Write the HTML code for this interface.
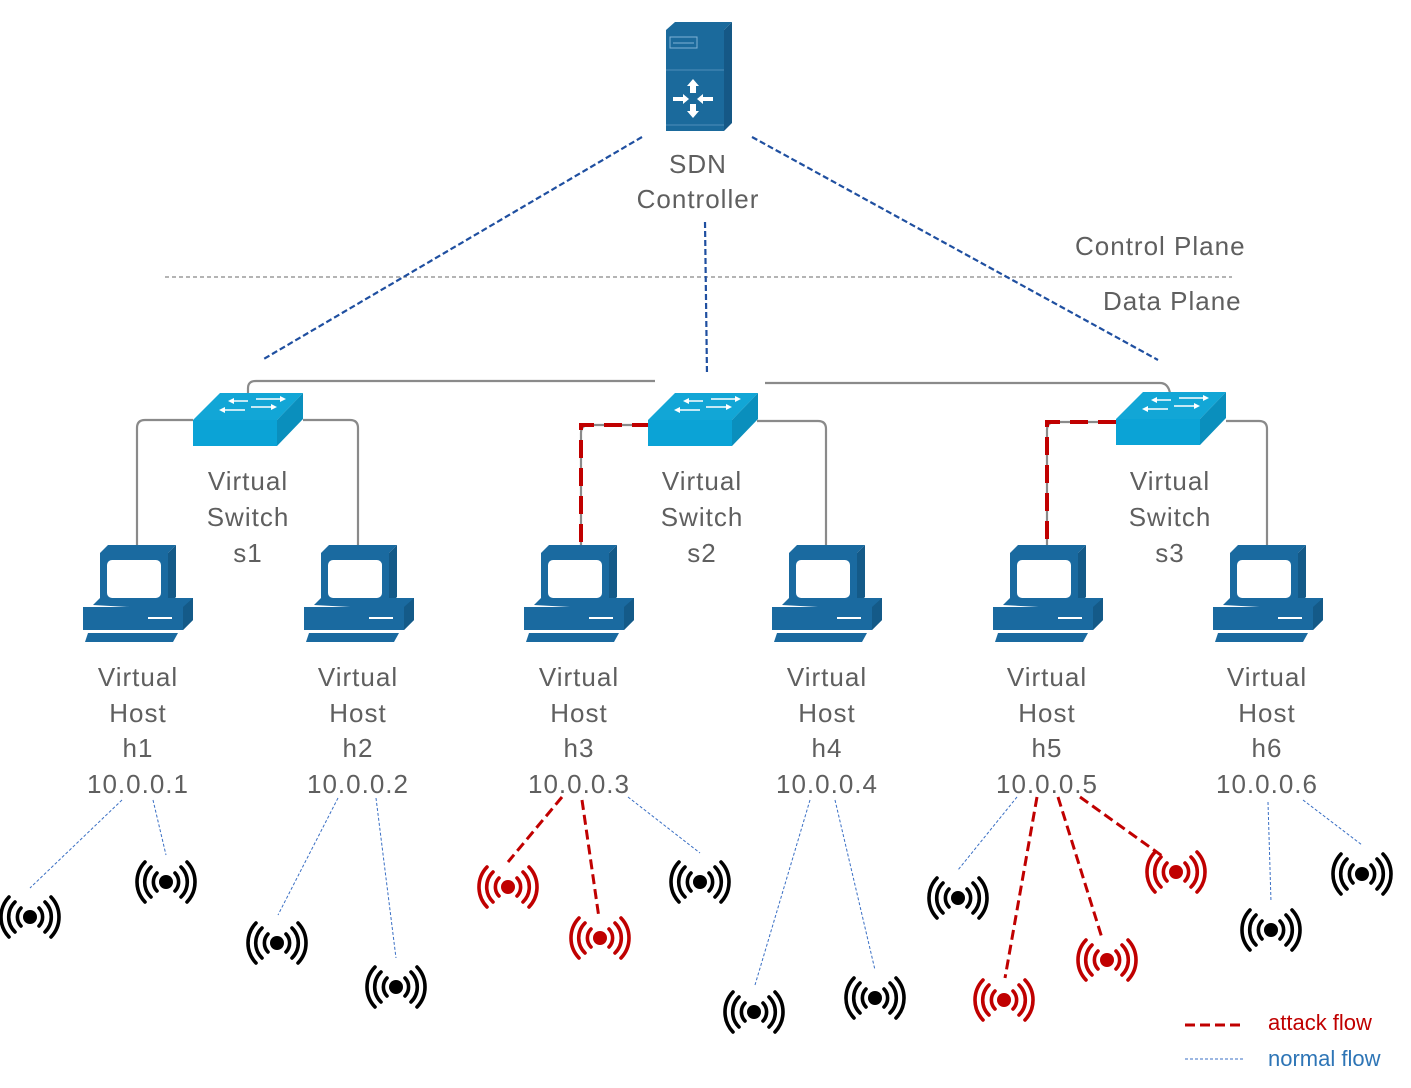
<!DOCTYPE html>
<html><head><meta charset="utf-8"><style>
html,body{margin:0;padding:0;background:#fff}
svg{display:block}
text{font-family:"Liberation Sans",sans-serif;font-size:26px;fill:#5f5f5f;letter-spacing:1px}
</style></head><body>
<svg width="1411" height="1088" viewBox="0 0 1411 1088" xmlns="http://www.w3.org/2000/svg">
<defs>
<g id="pc">
  <polygon points="17,8 25,0 93,0 85,8" fill="#1a6aa0"/>
  <polygon points="85,8 93,0 93,52 85,60" fill="#145a88"/>
  <rect x="17" y="8" width="68" height="52" fill="#1a6aa0"/>
  <rect x="24" y="15" width="54" height="38" rx="5" fill="#fff"/>
  <polygon points="10,60 17,53 110,53 110,55 100,65" fill="#1a6aa0"/>
  <polygon points="0,62 100,62 110,53 110,75 100,85 0,85" fill="#1a6aa0"/>
  <polygon points="100,62 110,53 110,75 100,85" fill="#145a88"/>
  <rect x="65" y="72" width="24" height="2" fill="#fff"/>
  <polygon points="5,88 95,88 90,97 2,97" fill="#1a6aa0"/>
</g>
<g id="sw">
  <polygon points="0,27 27,0 110,0 84,27" fill="#12a6d6"/>
  <rect x="0" y="27" width="84" height="26" fill="#0ba3d6"/>
  <polygon points="84,27 110,0 110,26 84,53" fill="#0a8fbd"/>
  <g stroke="#fff" stroke-width="1.5" fill="#fff">
    <line x1="40" y1="8" x2="55" y2="8"/><polygon points="35,8 41,5 41,11" stroke="none"/>
    <line x1="63" y1="6" x2="88" y2="6"/><polygon points="93,6 87,3 87,9" stroke="none"/>
    <line x1="32" y1="17" x2="52" y2="17"/><polygon points="26,17 32,14 32,20" stroke="none"/>
    <line x1="58" y1="14" x2="78" y2="14"/><polygon points="84,14 78,11 78,17" stroke="none"/>
  </g>
</g>
<g id="wf" fill="none" stroke-width="3.6" stroke-linecap="round">
  <circle r="7" stroke="none" fill="currentColor"/>
  <path d="M-9,-9 A13,13 0 0 0 -9,9 M9,-9 A13,13 0 0 1 9,9" stroke="currentColor"/>
  <path d="M-15,-15 A21,21 0 0 0 -15,15 M15,-15 A21,21 0 0 1 15,15" stroke="currentColor"/>
  <path d="M-21,-20 A29,29 0 0 0 -21,20 M21,-20 A29,29 0 0 1 21,20" stroke="currentColor"/>
</g>
</defs>

<polygon points="666,30 675,22 732,22 724,30" fill="#1b6a9c"/>
<polygon points="724,30 732,22 732,123 724,131" fill="#155886"/>
<rect x="666" y="30" width="58" height="101" fill="#1b6a9c"/>
<rect x="670" y="37" width="27" height="11" fill="none" stroke="#7fb3d6" stroke-width="1"/>
<line x1="673" y1="43" x2="694" y2="43" stroke="#7fb3d6"/>
<line x1="666" y1="70" x2="724" y2="70" stroke="#4f8fba"/>
<line x1="666" y1="125" x2="724" y2="125" stroke="#4f8fba"/>
<g fill="#fff">
<polygon points="693,79 699,86 696,86 696,93 690,93 690,86 687,86"/>
<polygon points="693,118 699,111 696,111 696,104 690,104 690,111 687,111"/>
<polygon points="689,99 683,94 683,97 673,97 673,101 683,101 683,104"/>
<polygon points="697,99 703,94 703,97 713,97 713,101 703,101 703,104"/>
</g>

<text x="698" y="173" text-anchor="middle">SDN</text>
<text x="698" y="208" text-anchor="middle">Controller</text>
<text x="1075" y="255" fill="#555">Control Plane</text>
<text x="1103" y="310">Data Plane</text>

<line x1="165" y1="277" x2="1232" y2="277" stroke="#888" stroke-width="1.2" stroke-dasharray="4,3"/>
<g stroke="#1f4fa0" stroke-width="2.2" stroke-dasharray="6,3">
<line x1="642" y1="137" x2="262" y2="360"/>
<line x1="752" y1="137" x2="1158" y2="360"/>
<line x1="705" y1="222" x2="707" y2="375"/>
</g>

<g stroke="#8a8a8a" stroke-width="2.2" fill="none">
<path d="M248,393 V388 Q248,381 256,381 H655"/>
<path d="M765,383 H1160 Q1168,383 1170,393"/>
<path d="M193,420 H145 Q137,420 137,428 V545"/>
<path d="M303,420 H350 Q358,420 358,428 V545"/>
<path d="M650,425 H589 Q581,425 581,433 V548"/>
<path d="M757,421 H818 Q826,421 826,429 V545"/>
<path d="M1116,422 H1055 Q1047,422 1047,430 V545"/>
<path d="M1226,421 H1259 Q1267,421 1267,429 V545"/>
</g>
<g stroke="#c00000" stroke-width="4" fill="none" stroke-dasharray="18,10">
<path d="M650,425 H581 V548"/>
<path d="M1116,422 H1047 V545"/>
</g>

<use href="#sw" x="193" y="393"/>
<use href="#sw" x="648" y="393"/>
<use href="#sw" x="1116" y="392"/>

<use href="#pc" x="83" y="545"/>
<use href="#pc" x="304" y="545"/>
<use href="#pc" x="524" y="545"/>
<use href="#pc" x="772" y="545"/>
<use href="#pc" x="993" y="545"/>
<use href="#pc" x="1213" y="545"/>

<g text-anchor="middle">
<text x="248" y="490">Virtual</text><text x="248" y="526">Switch</text><text x="248" y="562">s1</text>
<text x="702" y="490">Virtual</text><text x="702" y="526">Switch</text><text x="702" y="562">s2</text>
<text x="1170" y="490">Virtual</text><text x="1170" y="526">Switch</text><text x="1170" y="562">s3</text>
<text x="138" y="686">Virtual</text><text x="138" y="722">Host</text><text x="138" y="757">h1</text><text x="138" y="793">10.0.0.1</text>
<text x="358" y="686">Virtual</text><text x="358" y="722">Host</text><text x="358" y="757">h2</text><text x="358" y="793">10.0.0.2</text>
<text x="579" y="686">Virtual</text><text x="579" y="722">Host</text><text x="579" y="757">h3</text><text x="579" y="793">10.0.0.3</text>
<text x="827" y="686">Virtual</text><text x="827" y="722">Host</text><text x="827" y="757">h4</text><text x="827" y="793">10.0.0.4</text>
<text x="1047" y="686">Virtual</text><text x="1047" y="722">Host</text><text x="1047" y="757">h5</text><text x="1047" y="793">10.0.0.5</text>
<text x="1267" y="686">Virtual</text><text x="1267" y="722">Host</text><text x="1267" y="757">h6</text><text x="1267" y="793">10.0.0.6</text>
</g>

<g stroke="#3a6fc4" stroke-width="1" stroke-dasharray="3,2">
<line x1="122" y1="800" x2="30" y2="888"/>
<line x1="153" y1="800" x2="166" y2="855"/>
<line x1="338" y1="798" x2="278" y2="915"/>
<line x1="376" y1="798" x2="396" y2="958"/>
<line x1="628" y1="797" x2="700" y2="853"/>
<line x1="810" y1="800" x2="755" y2="985"/>
<line x1="835" y1="800" x2="875" y2="970"/>
<line x1="1017" y1="797" x2="958" y2="870"/>
<line x1="1268" y1="802" x2="1271" y2="902"/>
<line x1="1303" y1="800" x2="1362" y2="845"/>
<line x1="1185" y1="1059" x2="1245" y2="1059"/>
</g>
<g stroke="#c00000" stroke-width="3" stroke-dasharray="10,5">
<line x1="562" y1="797" x2="508" y2="862"/>
<line x1="582" y1="800" x2="599" y2="918"/>
<line x1="1037" y1="797" x2="1005" y2="978"/>
<line x1="1058" y1="797" x2="1102" y2="938"/>
<line x1="1080" y1="797" x2="1165" y2="858"/>
<line x1="1185" y1="1025" x2="1245" y2="1025"/>
</g>

<g color="#000">
<use href="#wf" x="30" y="917"/>
<use href="#wf" x="166" y="882"/>
<use href="#wf" x="277" y="943"/>
<use href="#wf" x="396" y="987"/>
<use href="#wf" x="700" y="882"/>
<use href="#wf" x="754" y="1012"/>
<use href="#wf" x="875" y="998"/>
<use href="#wf" x="958" y="898"/>
<use href="#wf" x="1271" y="930"/>
<use href="#wf" x="1362" y="874"/>
</g>
<g color="#c00000">
<use href="#wf" x="508" y="887"/>
<use href="#wf" x="600" y="938"/>
<use href="#wf" x="1004" y="1000"/>
<use href="#wf" x="1107" y="960"/>
<use href="#wf" x="1176" y="872"/>
</g>

<text x="1268" y="1030" style="fill:#c00000;font-size:22px;letter-spacing:0">attack flow</text>
<text x="1268" y="1066" style="fill:#2e75b6;font-size:22px;letter-spacing:0">normal flow</text>
</svg>
</body></html>
